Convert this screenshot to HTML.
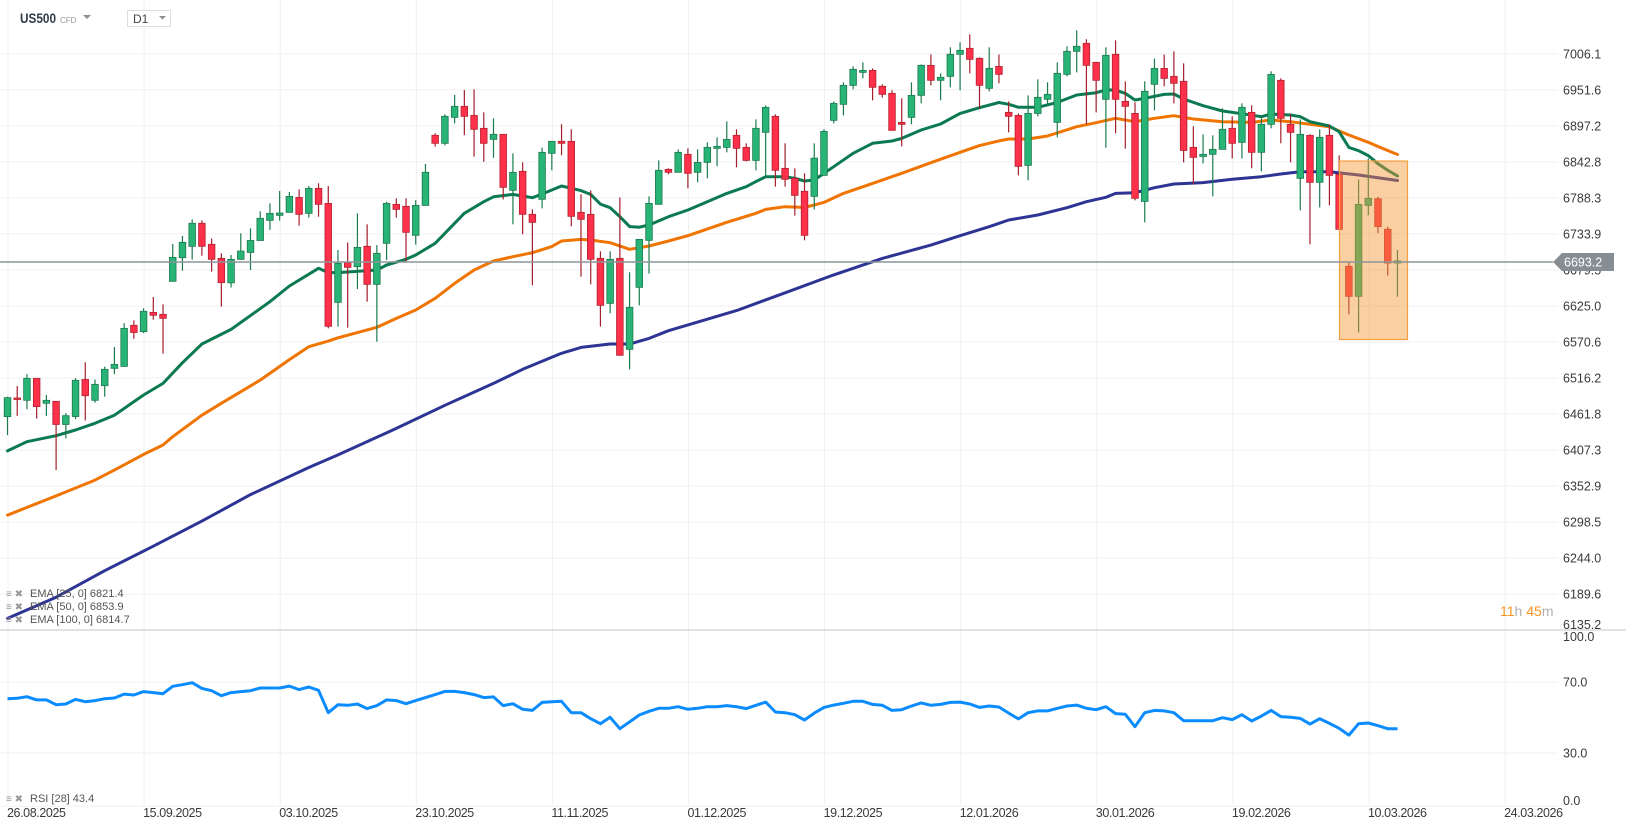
<!DOCTYPE html>
<html><head><meta charset="utf-8">
<style>
html,body{margin:0;padding:0;background:#fff;}
svg{display:block;font-family:"Liberation Sans",sans-serif;}
</style></head>
<body>
<svg id="chart" width="1626" height="831" viewBox="0 0 1626 831" xmlns="http://www.w3.org/2000/svg">
  <rect x="0" y="0" width="1626" height="831" fill="#fff"/>
  <g id="grid"></g>
  <g id="ema"></g>
  <g id="candles"></g>
  <rect x="1339.5" y="161" width="68" height="178.5" fill="#f39632" fill-opacity="0.45" stroke="#f5a040" stroke-width="1.2"/>
  <line x1="0" y1="262" x2="1553" y2="262" stroke="#8c959b" stroke-width="1.4"/>
  <g id="axes"></g>
  <g id="rsi"></g>

  <g>
    <text x="20" y="23" font-size="14" font-weight="bold" fill="#2f3b46" textLength="36" lengthAdjust="spacingAndGlyphs">US500</text>
    <text x="60" y="23" font-size="8" fill="#999">CFD</text>
    <polygon points="83,15 91,15 87,19" fill="#8a8f94"/>
    <rect x="127.5" y="10.5" width="43" height="16" fill="#fff" stroke="#ddd"/>
    <text x="133" y="23" font-size="12" fill="#444">D1</text>
    <polygon points="159,16 166,16 162.5,19.5" fill="#8a8f94"/>
  </g>

  <g>
    <polygon points="1553,262 1562,253 1614,253 1614,271 1562,271" fill="#868e93"/>
    <text x="1564" y="266.5" font-size="12.5" fill="#fff">6693.2</text>
  </g>

  <text x="1500" y="616" font-size="14"><tspan fill="#f7931e">11</tspan><tspan fill="#b0b0b0">h </tspan><tspan fill="#f7931e">45</tspan><tspan fill="#b0b0b0">m</tspan></text>

  <g font-size="11" fill="#555">
    <text x="6" y="597" font-size="10" fill="#999">≡ ✖</text>
    <text x="30" y="597">EMA  [25,  0]  6821.4</text>
    <text x="6" y="610" font-size="10" fill="#999">≡ ✖</text>
    <text x="30" y="610">EMA  [50,  0]  6853.9</text>
    <text x="6" y="623" font-size="10" fill="#999">≡ ✖</text>
    <text x="30" y="623">EMA  [100,  0]  6814.7</text>
    <text x="6" y="802" font-size="10" fill="#999">≡ ✖</text>
    <text x="30" y="802">RSI  [28]  43.4</text>
  </g>
</svg>
<script>
const openV=[6457.8,6486,6482.5,6515.7,6478,6481,6446,6458,6514,6482.5,6504.6,6530.8,6533.8,6595.8,6586.2,6615.4,6612.4,6662.3,6698,6715.2,6750,6718.2,6697,6660,6695.5,6706,6724,6754.4,6762,6766.5,6789,6765,6802.8,6780,6630.5,6690.9,6684.4,6715.2,6657.7,6719.7,6778.6,6775.6,6731.8,6777,6882.9,6870.8,6910,6926.7,6913,6893.5,6876.8,6884.4,6799.8,6828.5,6763.5,6786.2,6855.7,6873.8,6873.8,6766.5,6763.5,6697,6629,6697,6559.5,6653.2,6724.2,6778.6,6831.5,6827,6854.2,6827,6842,6863.2,6864.7,6882.9,6864.7,6845,6887.4,6911.6,6833,6817.9,6798.3,6790.7,6822.4,6905.5,6929.7,6958.4,6978,6981,6957,6946.3,6902.5,6910,6943.3,6988.6,6966,6972,7005.3,7014.4,6999.2,6953.9,6987,6917.6,6913,6837.5,6916,6937.3,6902.5,6975,7009.8,7021.9,6993.2,6937.3,7005.3,6934.2,6916,6783,6960,6984,6972,6964.5,6864.7,6851,6854.2,6861.7,6893.5,6872.3,6917.6,6857.2,6899.5,6966,6899.5,6817.9,6882.9,6811.9,6882.9,6824,6685,6639.6,6777,6787,6741,6690];
const highV=[6488,6504,6522,6516,6490.5,6481,6463,6516,6540,6514,6533.3,6563,6599,6603.3,6621.5,6638.6,6627.5,6718.7,6730.8,6756,6754.4,6727,6704.6,6702,6734.8,6742.4,6768,6780,6798.8,6797.3,6801.3,6806.3,6810.4,6806.3,6709.6,6721,6765,6748.4,6717,6782.6,6787.7,6787.7,6785,6839.6,6886,6914.6,6943.8,6951.4,6952.4,6917.6,6908.6,6884.4,6855.7,6842,6771,6864.3,6873.8,6899.5,6892,6793.7,6799.8,6707.6,6707.6,6789,6676,6725.7,6790.7,6845,6833,6861.7,6863.2,6861.7,6872.3,6879.9,6904,6892,6870.8,6907,6928.2,6914.6,6870.8,6833,6825.5,6870.8,6892,6934.2,6963,6987.1,6993.2,6984,6960,6950.9,6938.8,6963,6990,7005,6976.6,7015.9,7023.4,7035.5,7000.7,7015.9,7005,6934.2,6916,6943.3,6967.5,6963,6993.2,7017.4,7041.5,7028,6993.2,7015.9,7026.4,6964.5,6932.7,6964.5,6999,7005,7009.8,6991.7,6896.5,6884.4,6882.9,6923.7,6911.6,6931.2,6928.2,6908.6,6979.6,6969,6914.6,6907,6884.4,6891.9,6899.5,6852.7,6691,6816.4,6848,6790,6745,6709.6];
const lowV=[6430,6459,6469,6455,6459,6377,6425,6454,6452,6479,6488,6522,6533,6575.6,6584,6604.3,6553,6662,6678.4,6695,6701,6677,6624,6653,6695,6679.4,6724,6740,6754,6766.5,6746.4,6758.5,6760,6591.2,6593.8,6592.3,6650.7,6631.5,6571,6694.5,6758.5,6690.5,6717.7,6777,6865.8,6867.8,6901,6883,6850.7,6843,6849,6786,6748.4,6733.3,6656.2,6772.6,6830,6852.7,6745.4,6669.3,6657.7,6593.8,6614,6550.5,6529.3,6626,6674,6778.6,6824,6827,6802.8,6812,6817.9,6836,6857.2,6834.5,6843.6,6830,6820.4,6805.3,6805.3,6761.5,6724.2,6771,6822.4,6901,6913,6952.4,6969,6935.8,6940,6890.4,6866.2,6899.5,6931.2,6958.4,6935.8,6955.4,6950.9,6976.6,6923.7,6949.4,6961.5,6887.4,6822.4,6814.9,6911.6,6928.2,6879.9,6972,6978,6899.5,6917.6,6864.3,6885.9,6862.7,6784.7,6751.4,6920.6,6957,6931.2,6842,6808.8,6840.6,6790.7,6861.7,6848,6848,6833,6828.5,6893.5,6870.8,6842,6769.5,6718.2,6774,6777,6740.8,6612.4,6585.2,6762,6735,6671,6639];
const closeV=[6486.5,6484,6515.7,6473,6482.5,6446,6459.3,6512.7,6489.5,6506.6,6529.3,6536.8,6591.2,6585,6617,6611,6606.4,6698.5,6721.2,6750,6715.2,6695.5,6660.3,6695.5,6708,6724,6757.5,6765,6765.5,6790.7,6763.5,6802.8,6778.6,6594.3,6689.5,6683.4,6713.6,6657.7,6704.6,6780,6771,6736.3,6777,6827,6870.8,6911.6,6926.7,6911.6,6892,6870.8,6884.4,6804.3,6827,6763.5,6751.4,6857.2,6873.8,6870.8,6760.5,6756,6695.5,6626,6695.5,6550.5,6623,6725.7,6780,6830,6827,6857.2,6825.5,6842,6864.7,6866.2,6876.8,6863.2,6845,6893.5,6925.2,6830,6816.4,6792.2,6731.8,6848.4,6888.9,6931.2,6958.4,6982.6,6981,6955.4,6944.8,6890.4,6899.5,6943.3,6988.6,6966,6970.5,7005.3,7011.3,6997.7,6958.4,6984.1,6975,6911.6,6836,6916,6940.3,6944.8,6976.6,7009.8,7017.4,6988.6,6966,7003.8,6937.3,6926.7,6787.7,6949.4,6984,6969,6961.5,6860,6849.6,6854.2,6861.7,6892,6870.8,6925.2,6857.2,6899.5,6975,6908.6,6887.4,6884.4,6811.9,6879.9,6822.4,6740.8,6639.6,6778.6,6787.7,6745,6690,6693.2];

const ema25Idx=[0,2,5,7,9,11,14,16,18,20,23,27,29,32,33,34,38,39,41,42,44,46,47,49,50,52,54,55,57,59,60,61,62,63,64,65,66,68,70,72,74,76,77,78,80,81,82,83,85,87,89,91,92,94,96,98,100,102,103,104,106,108,110,112,113,114,115,116,117,119,120,121,123,125,127,129,130,132,133,134,136,137,138,139,140,141,142,143];
const ema25Val=[6406,6420,6429,6437.6,6447.7,6460,6490.5,6508,6539.4,6567.6,6589.7,6631.5,6655.2,6682,6675.4,6675.4,6679.4,6687,6695.5,6702,6719.7,6750,6765,6782.6,6790,6793.7,6788.7,6794.2,6806.3,6799.3,6793.7,6779,6773.6,6760,6745,6744,6747.4,6760,6770,6782.6,6795.2,6805.3,6812.9,6820.4,6820.4,6817.9,6813.9,6815.4,6835.5,6855.7,6870.8,6874.3,6878.3,6891,6900,6916,6924.7,6932.5,6929.7,6925.2,6925.2,6932.7,6943.8,6947.3,6951.4,6951.4,6946.3,6936.3,6938.8,6944.8,6945.3,6937.8,6927.7,6919.7,6915.6,6911,6915,6913.6,6911,6903.5,6897,6888.4,6864.7,6859.7,6852.2,6840,6830,6821.4];
const ema50Idx=[0,5,9,11,14,16,17,20,22,26,29,31,33,34,38,40,42,44,46,48,50,52,54,56,57,59,60,62,64,66,68,70,74,77,78,80,82,84,86,89,92,95,98,100,102,103,105,107,110,112,114,116,118,120,122,125,128,130,132,134,136,137,138,140,141,142,143];
const ema50Val=[6309,6338,6362,6377,6400.8,6415,6427.5,6460,6478,6513,6544,6563.5,6572,6577,6592.8,6606.3,6619,6636.6,6659.2,6679.4,6693,6699.5,6705.6,6714.7,6723.2,6725.7,6724.7,6720.7,6710.6,6715.6,6723.2,6731.3,6751.4,6765,6771,6775,6774,6781.6,6795.2,6810.3,6825.5,6841.6,6857.2,6867.3,6874.5,6877.3,6877.3,6881.9,6896,6902,6908.6,6903.5,6908.6,6912.6,6907.6,6903.5,6902.5,6906,6903.5,6899.5,6896,6889.4,6883.4,6872.3,6866,6860,6853.9];
const ema100Idx=[0,5,10,15,20,25,31,34,40,45,50,53,57,59,62,64,66,68,75,80,85,90,95,98,101,103,106,109,111,113,114,116,118,120,123,126,129,131,133,136,139,143];
const ema100Val=[6153,6185,6225,6262,6300,6340,6381,6400,6440,6475,6508,6529.3,6553.5,6562.5,6567.6,6567.6,6576,6587.7,6618,6645,6672,6697,6717,6731.3,6744.9,6755,6762.5,6773.5,6782.6,6789.2,6795.2,6796.2,6803.8,6809.3,6811.4,6816.4,6820.4,6824.4,6828,6828,6823,6814.7];

const rsiVal=[60.6,60.8,61.7,59.9,59.9,57.2,57.6,60.2,58.9,59.5,60.6,61,63.2,62.7,64.6,64,63.4,67.6,68.5,69.6,66.4,65.1,62.3,64,64.6,65.1,66.6,66.6,66.6,67.7,65.7,67.2,65.3,52.7,57.2,56.9,57.6,55,56.7,59.9,59.5,57.8,59.5,61.2,62.9,64.7,64.7,64,62.9,61.2,61.6,56.7,57.8,54.6,54,58.5,58.9,59.1,52.7,52.7,49.3,46.5,50.1,43.7,47.5,51.4,53.5,55.2,55.2,56.1,54.6,55.2,56.1,56.1,56.7,56.1,55,56.9,58.7,53.1,52.7,51.6,48.6,52.5,55.7,57,58,59.1,59.1,57.4,56.9,54,54.4,56.5,58.2,56.9,57.4,58.5,58.7,57.6,55.7,56.5,55.9,52.5,49.2,52.7,53.7,53.7,55.2,56.5,57,55.2,54.4,56.1,52.2,51.8,44.8,52.7,54,53.7,52.7,48.2,48.2,48.2,48.2,49.9,48.8,51.6,48,50.8,54,50.5,50.1,49.5,46.3,49.3,46.7,43.9,40.1,46.5,46.9,45.4,43.7,43.7];

const priceTicks=["7006.1","6951.6","6897.2","6842.8","6788.3","6733.9","6679.5","6625.0","6570.6","6516.2","6461.8","6407.3","6352.9","6298.5","6244.0","6189.6","6135.2"];
const rsiTicks=["100.0","70.0","30.0","0.0"];
const dateLabels=["26.08.2025","15.09.2025","03.10.2025","23.10.2025","11.11.2025","01.12.2025","19.12.2025","12.01.2026","30.01.2026","19.02.2026","10.03.2026","24.03.2026"];

const NS="http://www.w3.org/2000/svg";
const xC=i=>7.5+i*9.72;
const yP=v=>306+(6625-v)*0.6618;
const yR=v=>682+(70-v)*1.775;
const xGrid=k=>8+k*136.1;
function mk(tag,attrs,parent){const e=document.createElementNS(NS,tag);for(const k in attrs)e.setAttribute(k,attrs[k]);parent.appendChild(e);return e;}

const grid=document.getElementById('grid');
dateLabels.forEach((d,k)=>{
  const l=mk('line',{x1:xGrid(k),y1:0,x2:xGrid(k),y2:805,stroke:'#f0f0f0','stroke-width':1},grid);
  
  
});
priceTicks.forEach(t=>{
  const v=parseFloat(t); if(v<6150) return;
  const l=mk('line',{x1:0,y1:yP(v),x2:1558,y2:yP(v),stroke:'#f0f0f0','stroke-width':1},grid);
  
  
});

const axes=document.getElementById('axes');
priceTicks.forEach(t=>{
  const v=parseFloat(t);
  const y=v<6150?629:yP(v)+4.5;
  const e=mk('text',{x:1563,y:y,'font-size':12.5,fill:'#3a3a3a'},axes);
  e.textContent=t;
  
  
});
dateLabels.forEach((d,k)=>{
  const e=mk('text',{x:xGrid(k)-1,y:817,'font-size':12.5,fill:'#3a3a3a','letter-spacing':'-0.4'},axes);
  e.textContent=d;
  
  
});
const sep=mk('line',{x1:0,y1:630,x2:1626,y2:630,stroke:'#d0d0d0','stroke-width':1.2},axes);



const emaG=document.getElementById('ema');
function emaLine(idx,val,color,name){
  const pts=idx.map((i,j)=>xC(i).toFixed(1)+','+yP(val[j]).toFixed(1)).join(' ');
  const p=mk('polyline',{points:pts,fill:'none',stroke:color,'stroke-width':3,'stroke-linejoin':'round','stroke-linecap':'round'},emaG);
  
  
}
emaLine(ema100Idx,ema100Val,'#2d3494','ema100-line');
emaLine(ema50Idx,ema50Val,'#f07400','ema50-line');
emaLine(ema25Idx,ema25Val,'#0b7a50','ema25-line');

const cg=document.getElementById('candles');
for(let i=0;i<openV.length;i++){
  const up=closeV[i]>=openV[i];
  const x=xC(i);
  const wick=up?'#1c7a4e':'#a31f2c';
  const w=mk('line',{x1:x,y1:yP(highV[i]),x2:x,y2:yP(lowV[i]),stroke:wick,'stroke-width':1.2},cg);
  
  
  const top=yP(Math.max(openV[i],closeV[i])), bot=yP(Math.min(openV[i],closeV[i]));
  const b=mk('rect',{x:x-3.3,y:top,width:6.6,height:Math.max(1.5,bot-top),fill:up?'#27b476':'#ff3049',stroke:up?'#1c7a4e':'#b3202f','stroke-width':0.8},cg);
  
  
}

const rg=document.getElementById('rsi');
[70,30,0].forEach(v=>{
  const l=mk('line',{x1:0,y1:yR(v),x2:1558,y2:yR(v),stroke:'#f0f0f0','stroke-width':1},rg);
  
  
});
rsiTicks.forEach(t=>{
  const v=parseFloat(t);
  const y=v===100?641:(v===0?805:yR(v)+4.5);
  const e=mk('text',{x:1563,y:y,'font-size':12.5,fill:'#3a3a3a'},rg);
  e.textContent=t;
  
  
});
const rpts=rsiVal.map((v,i)=>xC(i).toFixed(1)+','+yR(v).toFixed(1)).join(' ');
const rl=mk('polyline',{points:rpts,fill:'none',stroke:'#0a8cff','stroke-width':3,'stroke-linejoin':'round'},rg);


</script>
</body></html>
